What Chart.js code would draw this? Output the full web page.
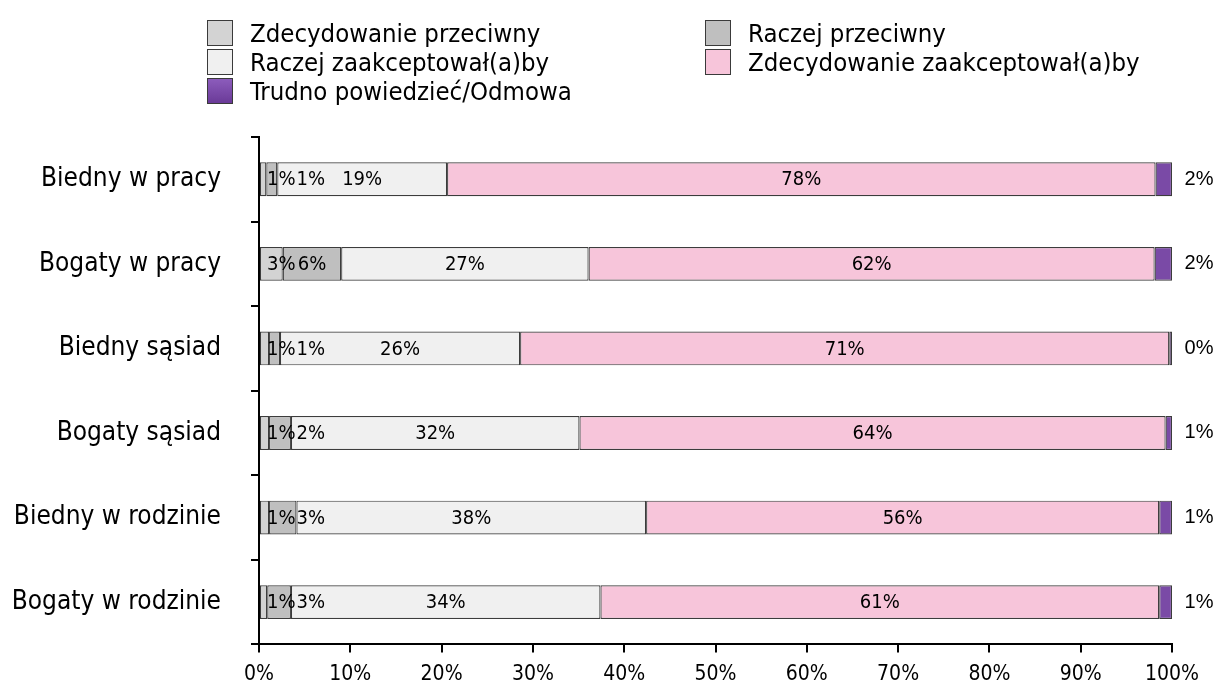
<!DOCTYPE html>
<html lang="pl">
<head>
<meta charset="utf-8">
<title>Akceptacja osób biednych i bogatych</title>
<script src="https://cdn.jsdelivr.net/npm/chart.js@4.4.1/dist/chart.umd.min.js"></script>
<style>
  html, body { margin: 0; padding: 0; background: #ffffff; }
  #wrap { position: relative; width: 1230px; height: 690px; }
  #chart { position: absolute; left: 0; top: 0; }
  #legend {
    position: absolute; left: 207px; top: 18px;
    display: grid; grid-template-columns: 498px 460px; grid-auto-rows: 29.3px;
    font-family: "DejaVu Sans Condensed", "DejaVu Sans", sans-serif; font-size: 25.5px; color: #000;
  }
  .item { display: flex; align-items: center; height: 29.3px; white-space: nowrap; }
  .box { width: 26px; height: 26px; box-sizing: border-box; border: 1.5px solid #3a3a3a; margin-right: 17px; flex: none; }
</style>
</head>
<body>
<div id="wrap">
  <canvas id="chart" width="1230" height="690"></canvas>
  <div id="legend"></div>
</div>
<script>
// Answer categories per group (shares in %)
const categories = ['Biedny w pracy', 'Bogaty w pracy', 'Biedny sąsiad', 'Bogaty sąsiad', 'Biedny w rodzinie', 'Bogaty w rodzinie'];
const seriesNames = ['Zdecydowanie przeciwny', 'Raczej przeciwny', 'Raczej zaakceptował(a)by', 'Zdecydowanie zaakceptował(a)by', 'Trudno powiedzieć/Odmowa'];
const zdecydowaniePrzeciwny     = [0.8, 2.6, 1.1, 1.1, 1.1, 0.9];
const raczejPrzeciwny           = [1.2, 6.4, 1.2, 2.4, 3.0, 2.6];
const raczejZaakceptowalby      = [18.6, 27.1, 26.3, 31.6, 38.3, 33.9];
const zdecydowanieZaakceptowalby = [77.6, 62.0, 71.1, 64.2, 56.2, 61.2];
const trudnoPowiedziec          = [1.8, 1.9, 0.3, 0.7, 1.4, 1.4];
const tickValues = [0, 10, 20, 30, 40, 50, 60, 70, 80, 90, 100];

const colors = ['#d3d3d3', '#bfbfbf', '#f0f0f0', '#f7c5da', '#7a4aa6'];
const seriesValues = [zdecydowaniePrzeciwny, raczejPrzeciwny, raczejZaakceptowalby, zdecydowanieZaakceptowalby, trudnoPowiedziec];

const condensed = '"DejaVu Sans Condensed", "DejaVu Sans", sans-serif';
const labelFont = '20px ' + condensed;
const sideFont = '20px "Liberation Sans", Arial, sans-serif';
const fmt = v => Math.round(v) + '%';

// Purple segments are shaded from a lighter top edge to a darker bottom edge
function purpleFill(context) {
  const el = context.element;
  if (!el || el.height === undefined) return colors[4];
  const top = el.y - el.height / 2, bottom = el.y + el.height / 2;
  if (!isFinite(top) || !isFinite(bottom) || top === bottom) return colors[4];
  const g = context.chart.ctx.createLinearGradient(0, top, 0, bottom);
  g.addColorStop(0, '#8c5cbc');
  g.addColorStop(1, '#6a3a98');
  return g;
}

// Value labels: inside the segments (pushed right when they would collide), and the last series beside the bar
const valueLabels = {
  id: 'valueLabels',
  afterDatasetsDraw(chart) {
    const ctx = chart.ctx;
    const area = chart.chartArea;
    ctx.save();
    ctx.fillStyle = '#000';
    ctx.textBaseline = 'middle';
    categories.forEach((_, i) => {
      let prevRight = area.left + 8;
      ctx.font = labelFont;
      ctx.textAlign = 'left';
      for (let d = 0; d < 4; d++) {
        const bar = chart.getDatasetMeta(d).data[i];
        const txt = fmt(seriesValues[d][i]);
        const w = ctx.measureText(txt).width;
        let left = (bar.x + bar.base) / 2 - w / 2;
        if (left < prevRight) left = prevRight;
        ctx.fillText(txt, left, bar.y + 1);
        prevRight = left + w + 1;
      }
      const last = chart.getDatasetMeta(4).data[i];
      ctx.font = sideFont;
      ctx.textAlign = 'center';
      ctx.fillText(fmt(trudnoPowiedziec[i]), area.right + 27, last.y);
    });
    ctx.restore();
  }
};

const chart = new Chart(document.getElementById('chart'), {
  type: 'bar',
  data: {
    labels: categories,
    datasets: seriesNames.map((name, k) => ({
      label: name,
      data: seriesValues[k],
      backgroundColor: k === 4 ? purpleFill : colors[k],
      borderColor: '#3c3c3c',
      borderWidth: 1.2,
      borderSkipped: false,
      categoryPercentage: 1,
      barPercentage: 0.4
    }))
  },
  options: {
    indexAxis: 'y',
    responsive: false,
    animation: false,
    events: [],
    layout: { padding: { top: 137, right: 58, left: 0, bottom: 0 } },
    plugins: { legend: { display: false }, tooltip: { enabled: false } },
    scales: {
      x: {
        stacked: true, min: 0, max: 100,
        afterBuildTicks: s => { s.ticks = tickValues.map(v => ({ value: v })); },
        afterFit: s => { s.height = 40; },
        border: { display: true, color: '#000', width: 2 },
        grid: { drawOnChartArea: false, drawTicks: true, tickLength: 8, color: '#000', lineWidth: 2 },
        ticks: {
          padding: 10, color: '#000',
          font: { family: condensed, size: 21 },
          callback: v => v + '%', maxRotation: 0
        }
      },
      y: {
        stacked: true,
        afterFit: s => { s.width = 259; },
        border: { display: true, color: '#000', width: 2 },
        grid: { offset: true, drawOnChartArea: false, drawTicks: true, tickLength: 8, color: '#000', lineWidth: 2 },
        ticks: {
          padding: 30, color: '#000',
          font: { family: condensed, size: 26 }
        }
      }
    }
  },
  plugins: [valueLabels]
});

// Legend in two columns, built from the datasets
const legend = document.getElementById('legend');
chart.data.datasets.forEach((ds, k) => {
  const item = document.createElement('div');
  item.className = 'item';
  const box = document.createElement('span');
  box.className = 'box';
  box.style.background = k === 4 ? 'linear-gradient(#8c5cbc, #6a3a98)' : colors[k];
  const text = document.createElement('span');
  text.textContent = ds.label;
  item.appendChild(box);
  item.appendChild(text);
  legend.appendChild(item);
});
</script>
</body>
</html>
